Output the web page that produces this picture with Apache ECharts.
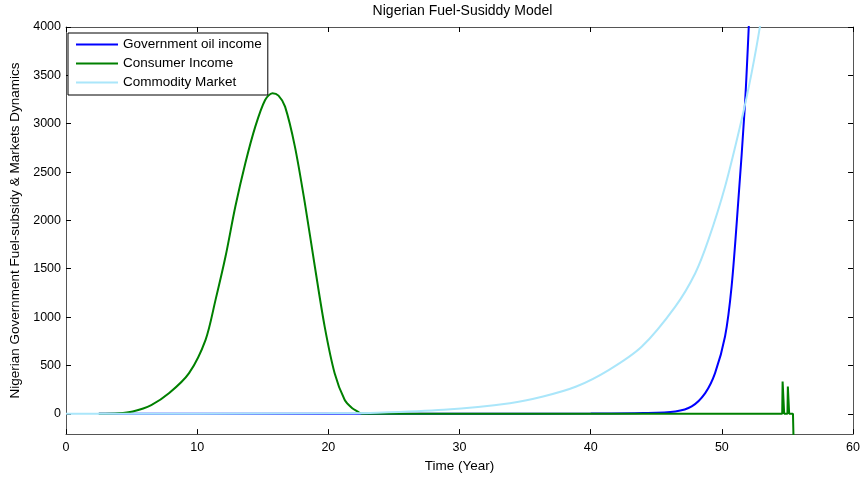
<!DOCTYPE html>
<html><head><meta charset="utf-8">
<script src="https://cdn.jsdelivr.net/npm/echarts@6/dist/echarts.min.js"></script>
<style>html,body{margin:0;padding:0;background:#fff}#c{width:863px;height:478px}</style>
</head><body><div id="c"></div>
<script>
// ---- data ----
const xTicks = [0, 10, 20, 30, 40, 50, 60];
const yTicks = [0, 500, 1000, 1500, 2000, 2500, 3000, 3500, 4000];

// Government oil income
const govT = [2.5, 5, 10, 20, 30, 40, 44, 46.45, 47.7, 48.73, 49.48, 50.24, 50.74, 51.24, 51.75, 52.05, 52.3];
const govV = [0, 0, 0, 0, 0, 2, 7, 24, 76, 214, 420, 799, 1316, 2178, 3176, 4003, 4800];

// Consumer Income: the hump
const conHumpT = [2.5, 4, 5.09, 6.5, 7.87, 9.38, 10.64, 11.4, 12.16, 12.91, 13.67, 14.43, 15.18, 15.74, 16.2, 16.7, 17.45, 18.21, 18.97, 19.72, 20.48, 21.24, 21.8, 22.24, 22.5];
const conHumpV = [0, 5, 24, 90, 214, 420, 765, 1178, 1626, 2143, 2591, 2970, 3245, 3315, 3290, 3176, 2763, 2178, 1523, 902, 420, 145, 60, 24, 0];
// Consumer Income: the flat part with the two spikes and the final drop
const conTailT = [22.5, 30, 40, 50, 54.6, 54.63, 54.72, 54.75, 55.0, 55.03, 55.1, 55.13, 55.42, 55.5, 55.52];
const conTailV = [0, 0, 0, 0, 0, 334, 334, 0, 0, 282, 282, 0, 0, -5, -600];

// Commodity Market
const comT = [0, 10, 20, 23.76, 28.8, 33.84, 36.37, 38.9, 41.4, 43.9, 46.45, 47.97, 48.97, 50.24, 51.5, 52.26, 52.9, 53.3];
const comV = [0, 1, 6, 12, 41, 110, 179, 282, 455, 696, 1109, 1454, 1798, 2349, 3039, 3521, 4003, 4400];

const seriesNames = ['Government oil income', 'Consumer Income', 'Commodity Market'];
const seriesColors = ['#0000ff', '#008000', '#aae6fa'];

// ---- chart ----
const zip = (t, v) => t.map((x, i) => [x, v[i]]);
const font = '"Liberation Sans", Arial, Helvetica, sans-serif';
const axisCol = '#555';
const chart = echarts.init(document.getElementById('c'), null, {renderer: 'canvas'});

const commonX = {
  type: 'value', min: 0, max: 60, interval: 10,
  axisLine: {show: true, onZero: false, lineStyle: {color: axisCol, width: 1}},
  axisTick: {show: true, inside: true, length: 5, lineStyle: {color: '#000'}},
  splitLine: {show: false}
};
const commonY = {
  type: 'value', min: -210, max: 4000,
  axisLine: {show: true, onZero: false, lineStyle: {color: axisCol, width: 1}},
  axisTick: {show: true, inside: true, length: 5, customValues: yTicks, lineStyle: {color: '#000'}},
  splitLine: {show: false}
};

const lineSeries = (name, color, data, smooth) => ({
  name: name, type: 'line', data: data, showSymbol: false, clip: true,
  smooth: smooth,
  color: color, lineStyle: {width: 2, color: color}
});

chart.setOption({
  animation: false,
  backgroundColor: '#fff',
  textStyle: {fontFamily: font},
  graphic: [{
    type: 'text', x: 462.5, y: 11,
    style: {text: 'Nigerian Fuel-Susiddy Model', fill: '#000', font: '14px ' + font,
            align: 'center', verticalAlign: 'middle', textAlign: 'center', textVerticalAlign: 'middle'}
  }],
  grid: {left: 66, right: 4, top: 27, bottom: 43, containLabel: false},
  legend: {
    orient: 'vertical', left: 68, top: 33,
    data: seriesNames,
    icon: 'rect', itemWidth: 42, itemHeight: 2, itemGap: 4,
    padding: [4, 6, 5, 8],
    borderColor: '#000', borderWidth: 1, backgroundColor: '#fff',
    textStyle: {fontFamily: font, fontSize: 13.5, color: '#000', lineHeight: 15}
  },
  xAxis: [
    Object.assign({}, commonX, {
      position: 'bottom',
      axisLabel: {show: true, color: '#000', fontSize: 12.5, fontFamily: font, margin: 7,
                  formatter: v => String(v)},
      name: 'Time (Year)', nameLocation: 'middle', nameGap: 23,
      nameTextStyle: {color: '#000', fontSize: 13.5, fontFamily: font}
    }),
    Object.assign({}, commonX, {position: 'top', axisLabel: {show: false}})
  ],
  yAxis: [
    Object.assign({}, commonY, {
      position: 'left',
      axisLabel: {show: true, customValues: yTicks, color: '#000', fontSize: 12.5, fontFamily: font, margin: 5,
                  formatter: v => String(v)},
      name: 'Nigerian Government Fuel-subsidy & Markets Dynamics', nameLocation: 'middle', nameGap: 38,
      nameTextStyle: {color: '#000', fontSize: 13.5, fontFamily: font}
    }),
    Object.assign({}, commonY, {position: 'right', axisLabel: {show: false}})
  ],
  series: [
    lineSeries(seriesNames[0], seriesColors[0], zip(govT, govV), 0.3),
    lineSeries(seriesNames[1], seriesColors[1], zip(conHumpT, conHumpV), 0.3),
    lineSeries(seriesNames[1], seriesColors[1], zip(conTailT, conTailV), false),
    lineSeries(seriesNames[2], seriesColors[2], zip(comT, comV), 0.3)
  ]
});
</script></body></html>
